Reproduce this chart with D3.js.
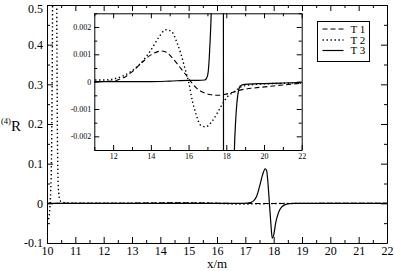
<!DOCTYPE html>
<html><head><meta charset="utf-8">
<script src="https://cdn.jsdelivr.net/npm/d3@7"></script>
<style>
body{margin:0;background:#fff;}
svg{display:block;}
svg text{font-family:"Liberation Serif","DejaVu Serif","Noto Serif","Times New Roman",serif !important;fill:#000;}
</style></head>
<body><svg id="c" width="394" height="271"></svg>
<script>
// ---- data ----
const seriesNames = ["T 1", "T 2", "T 3"];
const t1 = [[10,0],[11,0],[12,0.00002],[12.3,0.00008],[12.7,0.0002],[13.0,0.00036],[13.5,0.00068],[14.0,0.00098],[14.3,0.00108],[14.55,0.00112],[14.8,0.00108],[15.2,0.00082],[15.5,0.00056],[15.8,0.0003],[16.1,0.00002],[16.4,-0.00022],[16.8,-0.0004],[17.2,-0.00048],[17.6,-0.0005],[17.9,-0.00047],[18.3,-0.0004],[18.8,-0.0003],[19.5,-0.00023],[20.2,-0.00018],[21,-0.00012],[22,-0.00006]];
const t2 = [[10.05,-0.04],[10.08,-0.03],[10.1,-0.012],[10.13,0.03],[10.16,0.12],[10.19,0.4],[10.21,0.7],[10.33,0.7],[10.35,0.4],[10.37,0.15],[10.4,0.04],[10.45,0.01],[10.5,0.004],[10.7,0.0012],[11,0.00006],[11.5,0.00006],[12,0.0001],[12.5,0.0002],[13,0.0004],[13.5,0.0007],[14,0.00115],[14.4,0.0016],[14.8,0.0019],[15.1,0.00183],[15.4,0.0014],[15.6,0.001],[15.8,0.0005],[16.0,0.0],[16.2,-0.0007],[16.4,-0.0012],[16.65,-0.0016],[16.9,-0.00165],[17.25,-0.00145],[17.5,-0.00118],[17.75,-0.00087],[18.05,-0.00056],[18.4,-0.00037],[18.9,-0.00016],[19.6,-0.0001],[20.5,-0.00007],[22,-0.00005]];
const t3 = [[10,0],[11,0],[12,0],[13,0],[14,0],[15,0.00002],[16,0.00005],[16.5,0.00005],[16.85,0.00006],[16.95,0.00012],[17.03,0.0003],[17.1,0.0009],[17.15,0.0016],[17.2,0.0025],[17.3,0.007],[17.4,0.018],[17.5,0.042],[17.6,0.07],[17.7,0.087],[17.75,0.083],[17.8,0.05],[17.85,0],[17.9,-0.05],[17.95,-0.088],[18.0,-0.08],[18.07,-0.05],[18.15,-0.028],[18.21,-0.017],[18.3,-0.008],[18.43,-0.0025],[18.5,-0.0014],[18.56,-0.0008],[18.63,-0.0004],[18.7,-0.0002],[18.8,-0.00013],[19,-0.0001],[20,-0.00007],[21,-0.00005],[22,-0.00003]];
const mainXTicks = [10,11,12,13,14,15,16,17,18,19,20,21,22];
const mainXMinor = [10.5,11.5,12.5,13.5,14.5,15.5,16.5,17.5,18.5,19.5,20.5,21.5];
const mainYTicks = [-0.1,0,0.1,0.2,0.3,0.4,0.5];
const mainYMinor = [-0.05,0.05,0.15,0.25,0.35,0.45];
const insetXTicks = [12,14,16,18,20,22];
const insetXMinor = [11,13,15,17,19,21];
const insetYTicks = [-0.002,-0.001,0,0.001,0.002];
const insetYMinor = [-0.0025,-0.0015,-0.0005,0.0005,0.0015,0.0025];

const series = [
  {name: seriesNames[0], data: t1, dash: "5,3", w: 1.1},
  {name: seriesNames[1], data: t2, dash: "1.4,2.6", w: 1.4},
  {name: seriesNames[2], data: t3, dash: null, w: 1.2}
];

const SERIF = '"Liberation Serif","DejaVu Serif","Noto Serif",serif';
const svg = d3.select("#c");

function panel(g, xs, ys, xt, xm, yt, ym, fmtX, fmtY, fs, maj, mnr, id, labelPad) {
  const [x0, x1] = xs.range(), [y0, y1] = ys.range(); // y0 bottom
  g.append("rect").attr("x", x0).attr("y", y1).attr("width", x1 - x0).attr("height", y0 - y1).attr("fill", "#fff");
  g.append("clipPath").attr("id", id).append("rect").attr("x", x0).attr("y", y1).attr("width", x1 - x0).attr("height", y0 - y1);
  const lines = g.append("g").attr("clip-path", `url(#${id})`);
  const line = d3.line().x(d => xs(d[0])).y(d => ys(d[1])).curve(d3.curveMonotoneX);
  series.forEach(s => {
    lines.append("path").attr("d", line(s.data)).attr("fill", "none").attr("stroke", "#000")
      .attr("stroke-width", s.w).attr("stroke-dasharray", s.dash);
  });
  const style = a => { a.attr("font-family", SERIF).attr("font-size", fs); a.selectAll("text").attr("fill", "#000").style("font-size", fs + "px"); a.selectAll("line,path").attr("stroke", "#000"); };
  // bottom
  g.append("g").attr("transform", `translate(0,${y0})`).call(d3.axisBottom(xs).tickValues(xt).tickFormat(fmtX).tickSizeInner(-maj).tickSizeOuter(0).tickPadding(labelPad[0])).call(style);
  g.append("g").attr("transform", `translate(0,${y0})`).call(d3.axisBottom(xs).tickValues(xm).tickFormat("").tickSizeInner(-mnr).tickSizeOuter(0)).call(style).select(".domain").remove();
  // top
  g.append("g").attr("transform", `translate(0,${y1})`).call(d3.axisTop(xs).tickValues(xt).tickFormat("").tickSizeInner(-maj).tickSizeOuter(0)).call(style);
  g.append("g").attr("transform", `translate(0,${y1})`).call(d3.axisTop(xs).tickValues(xm).tickFormat("").tickSizeInner(-mnr).tickSizeOuter(0)).call(style).select(".domain").remove();
  // left
  const la = g.append("g").attr("transform", `translate(${x0},0)`).call(d3.axisLeft(ys).tickValues(yt).tickFormat(fmtY).tickSizeInner(-maj).tickSizeOuter(0).tickPadding(labelPad[1])).call(style);
  // keep the topmost label inside the picture
  la.selectAll(".tick text").filter(d => ys(d) < fs).attr("dy", (0.32 + (fs - ys(yt[yt.length-1])) / fs * 0.5) + "em");
  g.append("g").attr("transform", `translate(${x0},0)`).call(d3.axisLeft(ys).tickValues(ym).tickFormat("").tickSizeInner(-mnr).tickSizeOuter(0)).call(style).select(".domain").remove();
  // right
  g.append("g").attr("transform", `translate(${x1},0)`).call(d3.axisRight(ys).tickValues(yt).tickFormat("").tickSizeInner(-maj).tickSizeOuter(0)).call(style);
  g.append("g").attr("transform", `translate(${x1},0)`).call(d3.axisRight(ys).tickValues(ym).tickFormat("").tickSizeInner(-mnr).tickSizeOuter(0)).call(style).select(".domain").remove();
}

const fmt1 = d => String(+d.toFixed(1));
const fmt3 = d => String(+d.toFixed(3));
const fmtI = d => String(d);

// main panel
const x = d3.scaleLinear([10, 22], [47, 387]);
const y = d3.scaleLinear([-0.1, 0.5], [243, 5]);
panel(svg.append("g"), x, y, mainXTicks, mainXMinor, mainYTicks, mainYMinor, fmtI, fmt1, 12, 6, 3, "clipMain", [3, 4]);

// inset panel
const xi = d3.scaleLinear([11, 22], [94.3, 301.7]);
const yi = d3.scaleLinear([-0.0025, 0.0025], [150, 13.3]);
panel(svg.append("g"), xi, yi, insetXTicks, insetXMinor, insetYTicks, insetYMinor, fmtI, fmt3, 8, 5, 3, "clipInset", [3, 3]);

// legend
const lg = svg.append("g");
lg.append("rect").attr("x", 317.5).attr("y", 21.5).attr("width", 52).attr("height", 40).attr("fill", "#fff").attr("stroke", "#000").attr("stroke-width", 1);
series.forEach((s, i) => {
  const ly = [29, 40, 50.5][i];
  lg.append("line").attr("x1", 322.5).attr("x2", 343.5).attr("y1", ly).attr("y2", ly).attr("stroke", "#000")
    .attr("stroke-width", s.w).attr("stroke-dasharray", s.dash);
  lg.append("text").attr("x", 350.5).attr("y", ly + 3.8).attr("font-family", SERIF).style("font-size", "11px").text(s.name);
});

// axis titles
svg.append("text").attr("x", 217).attr("y", 268).attr("text-anchor", "middle").attr("font-family", SERIF).style("font-size", "13px").text("x/m");
const yl = svg.append("text").attr("x", 1).attr("y", 131).attr("font-family", SERIF).style("font-size", "15px");
yl.append("tspan").style("font-size", "8.5px").attr("dy", "-7").text("(4)");
yl.append("tspan").attr("dy", "7").text("R");
</script></body></html>
